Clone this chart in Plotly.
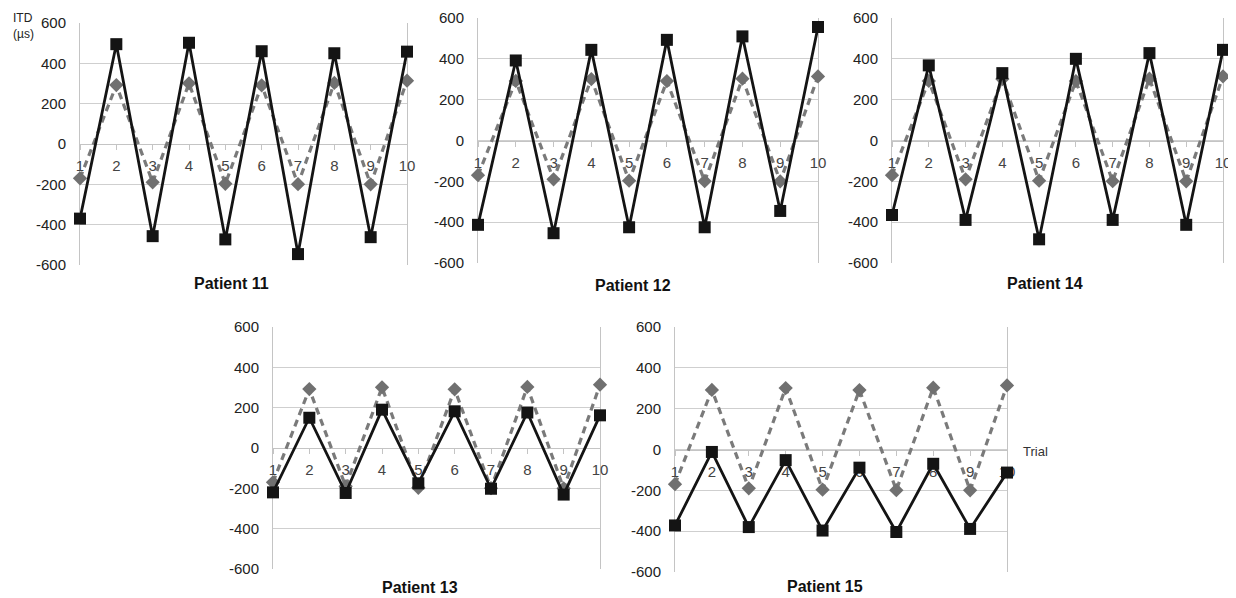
import plotly.graph_objects as go

# the page body adds an 8px offset; the figure is sized so that it fills the window
OFF = 8
W, H = 1236 - OFF, 598 - OFF

trials = [1, 2, 3, 4, 5, 6, 7, 8, 9, 10]
tick_labels = ["1", "2", "3", "4", "5", "6", "7", "8", "9", "10"]
y_ticks = [-600, -400, -200, 0, 200, 400, 600]
y_tick_labels = ["-600", "-400", "-200", "0", "200", "400", "600"]

panel_titles = ["Patient 11", "Patient 12", "Patient 14", "Patient 13", "Patient 15"]

# reference (dashed grey diamonds)
target_itd = [-170, 292, -190, 301, -197, 291, -199, 303, -200, 314]

# measured (solid black squares)
p11 = [-370, 495, -457, 502, -473, 460, -546, 450, -462, 458]
p12 = [-413, 392, -454, 444, -425, 493, -425, 510, -345, 556]
p14 = [-365, 368, -389, 330, -484, 400, -389, 428, -413, 444]
p13 = [-220, 150, -223, 190, -175, 182, -202, 176, -231, 162]
p15 = [-372, -12, -380, -52, -397, -89, -404, -70, -389, -113]

measured = [p11, p12, p14, p13, p15]

# pixel boxes of plot areas in the window (left, right, top, bottom)
boxes = [
    (80, 407, 23, 265),
    (478, 818, 18, 263),
    (892, 1223, 18, 263),
    (273, 600, 327, 569),
    (675, 1007, 327, 572),
]
title_pos = [(231, 283), (633, 285), (1045, 283), (420, 587), (825, 586)]


def px(x):
    return (x - OFF) / W


def py(y):
    return 1 - (y - OFF) / H


fig = go.Figure()
layout = dict(
    template="none",
    width=W, height=H,
    margin=dict(l=0, r=0, t=0, b=0, autoexpand=False),
    paper_bgcolor="white", plot_bgcolor="white",
    showlegend=False,
    font=dict(family="Liberation Sans, Arial, sans-serif"),
)

annotations = []
for i, (vals, box, ttl, tp) in enumerate(zip(measured, boxes, panel_titles, title_pos)):
    n = i + 1
    xa = "x" if n == 1 else f"x{n}"
    ya = "y" if n == 1 else f"y{n}"
    l, r, t, b = box
    xdom = [px(l), px(r)]
    ydom = [py(b), py(t)]
    fig.add_trace(go.Scatter(
        x=trials, y=target_itd, xaxis=xa, yaxis=ya, mode="lines+markers",
        line=dict(color="#7a7a7a", width=3.2, dash="7px,5px"),
        marker=dict(symbol="diamond", size=11, color="#707070"),
        cliponaxis=False, hoverinfo="skip",
    ))
    fig.add_trace(go.Scatter(
        x=trials, y=vals, xaxis=xa, yaxis=ya, mode="lines+markers",
        line=dict(color="#141414", width=2.8),
        marker=dict(symbol="square", size=12, color="#141414"),
        cliponaxis=False, hoverinfo="skip",
    ))
    xkey = "xaxis" if n == 1 else f"xaxis{n}"
    ykey = "yaxis" if n == 1 else f"yaxis{n}"
    layout[xkey] = dict(
        domain=xdom, range=[1, 10], anchor="free",
        position=(ydom[0] + ydom[1]) / 2,
        tickvals=trials, ticktext=tick_labels,
        ticks="outside", ticklen=5, tickcolor="#c4c4c4", tickwidth=1,
        showline=True, linecolor="#c4c4c4", linewidth=1,
        showgrid=False, zeroline=False, automargin=False,
        tickfont=dict(size=15, color="#444444"),
        ticklabelstandoff=3, layer="below traces",
        fixedrange=True,
    )
    layout[ykey] = dict(
        domain=ydom, range=[-600, 600], anchor=xa,
        tickvals=y_ticks, ticktext=y_tick_labels,
        showgrid=True, gridcolor="#cfcfcf", gridwidth=1,
        showline=True, mirror=True, linecolor="#c4c4c4", linewidth=1,
        zeroline=False, ticks="", automargin=False,
        tickfont=dict(size=15, color="#222222"),
        ticklabelstandoff=10, layer="below traces",
        fixedrange=True,
    )
    annotations.append(dict(
        text=f"<b>{ttl}</b>", x=px(tp[0]), y=py(tp[1]),
        xref="paper", yref="paper", showarrow=False,
        xanchor="center", yanchor="middle",
        font=dict(size=16, color="#111111"),
    ))

annotations.append(dict(
    text="ITD<br>(µs)", x=px(11), y=py(9), xref="paper", yref="paper",
    showarrow=False, xanchor="left", yanchor="top", align="left",
    font=dict(size=12, color="#222222"),
))
annotations.append(dict(
    text="Trial", x=px(1021), y=py(451), xref="paper", yref="paper",
    showarrow=False, xanchor="left", yanchor="middle",
    font=dict(size=13, color="#333333"),
))
layout["annotations"] = annotations
fig.update_layout(**layout)
fig.write_html("out.html")
